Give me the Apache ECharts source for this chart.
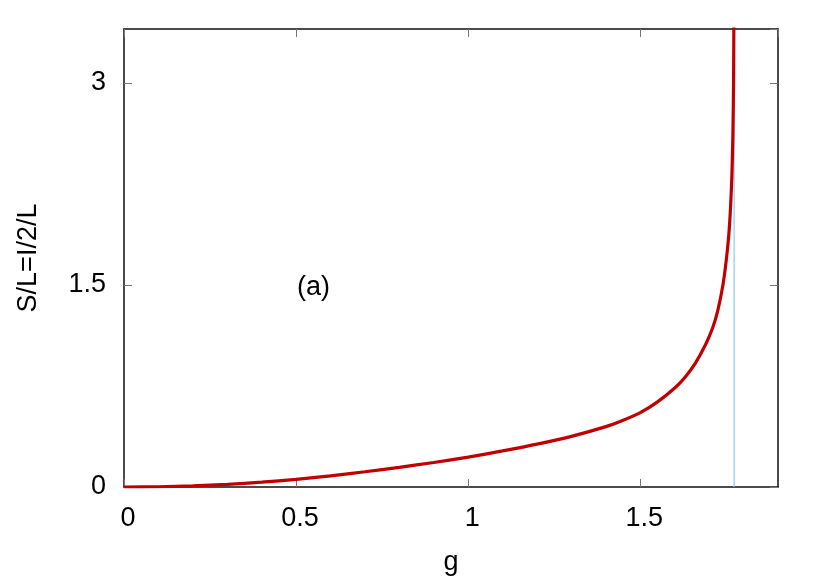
<!DOCTYPE html>
<html>
<head>
<meta charset="utf-8">
<script src="https://cdn.jsdelivr.net/npm/echarts@6/dist/echarts.min.js"></script>
<style>html,body{margin:0;padding:0;background:#fff}#c{width:830px;height:581px}</style>
</head>
<body>
<div id="c"></div>
<script>
const gValues = [0, 0.1, 0.2, 0.3, 0.4, 0.5, 0.6, 0.7, 0.8, 0.9, 1.0, 1.1, 1.2, 1.3, 1.4, 1.45, 1.5, 1.55, 1.6, 1.63, 1.66, 1.69, 1.71, 1.725, 1.74, 1.75, 1.757, 1.762, 1.766, 1.769, 1.771, 1.772];
const sValues = [0, 0.002, 0.009, 0.02, 0.036, 0.057, 0.083, 0.113, 0.146, 0.182, 0.222, 0.268, 0.318, 0.376, 0.448, 0.495, 0.552, 0.632, 0.735, 0.815, 0.92, 1.06, 1.18, 1.31, 1.50, 1.69, 1.87, 2.07, 2.31, 2.62, 3.04, 3.59];
const gCritical = 1.7725;
const xTicks = [0, 0.5, 1, 1.5];
const yTicks = [0, 1.5, 3];
const xLabel = 'g';
const yLabel = 'S/L=I/2/L';
const annotation = '(a)';

const curve = gValues.map((g, i) => [g, sValues[i]]);
const font = 'Liberation Sans, Arial, sans-serif';
const fmt = (list) => (v) => list.some(t => Math.abs(t - v) < 1e-9) ? String(v) : '';

const chart = echarts.init(document.getElementById('c'));
const axisCommon = () => ({
  type: 'value',
  axisLine: { show: true, onZero: false, lineStyle: { color: '#111', width: 1.5 } },
  axisTick: { show: true, inside: true, length: 8, lineStyle: { color: '#777', width: 1 } },
  splitLine: { show: false }
});
chart.setOption({
  animation: false,
  backgroundColor: '#fff',
  grid: { left: 124, right: 52, top: 29, bottom: 92, containLabel: false },
  xAxis: [
    Object.assign(axisCommon(), {
      min: 0, max: 1.9, interval: 0.5, position: 'bottom',
      name: xLabel, nameLocation: 'middle', nameGap: 62,
      nameTextStyle: { fontFamily: font, fontSize: 27, color: '#000' },
      axisLabel: { margin: 18, fontFamily: font, fontSize: 27, color: '#000', formatter: fmt(xTicks), padding: [0, 0, 0, 8], showMaxLabel: false }
    }),
    Object.assign(axisCommon(), {
      min: 0, max: 1.9, interval: 0.5, position: 'top',
      axisLabel: { show: false }
    })
  ],
  yAxis: [
    Object.assign(axisCommon(), {
      min: 0, max: 3.4, interval: 1.5, position: 'left',
      name: yLabel, nameLocation: 'middle', nameGap: 82, nameRotate: 90,
      nameTextStyle: { fontFamily: font, fontSize: 27, color: '#000' },
      axisLabel: { margin: 18, fontFamily: font, fontSize: 27, color: '#000', formatter: fmt(yTicks), showMaxLabel: false }
    }),
    Object.assign(axisCommon(), {
      min: 0, max: 3.4, interval: 1.5, position: 'right',
      axisLabel: { show: false }
    })
  ],
  graphic: [{
    type: 'text', left: 297, top: 274,
    style: { text: annotation, fontFamily: font, fontSize: 27, fill: '#000' }
  }],
  series: [
    {
      type: 'line', xAxisIndex: 0, yAxisIndex: 0,
      data: [[gCritical, 0], [gCritical, 3.4]],
      showSymbol: false, lineStyle: { color: '#87cefa', width: 1.2 }, z: 2
    },
    {
      type: 'line', xAxisIndex: 0, yAxisIndex: 0,
      data: curve, smooth: 0.25, showSymbol: false, clip: true,
      lineStyle: { color: '#c00000', width: 3.2 }, z: 3
    }
  ]
});
</script>
</body>
</html>
